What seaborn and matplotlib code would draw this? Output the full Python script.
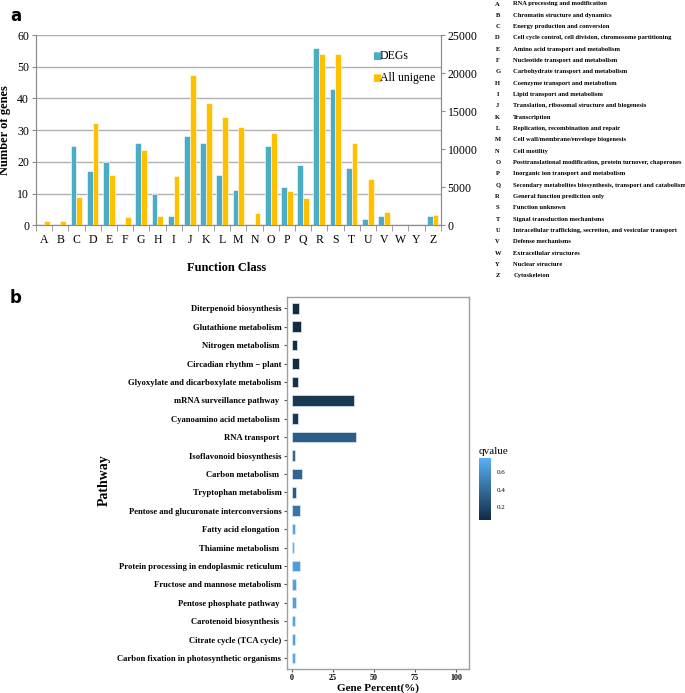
import matplotlib
matplotlib.use('Agg')
import matplotlib.pyplot as plt
import numpy as np
import pandas as pd
import seaborn as sns
from matplotlib.colors import LinearSegmentedColormap, Normalize
from matplotlib.cm import ScalarMappable

# Panel a: COG function classes
classes = ['A', 'B', 'C', 'D', 'E', 'F', 'G', 'H', 'I', 'J', 'K', 'L', 'M',
           'N', 'O', 'P', 'Q', 'R', 'S', 'T', 'U', 'V', 'W', 'Y', 'Z']
degs = [0, 0, 25, 17, 20, 0, 26, 10, 3, 28, 26, 16, 11,
        0, 25, 12, 19, 56, 43, 18, 2, 3, 0, 0, 3]
all_unigene = [580, 580, 3670, 13460, 6670, 1125, 9920, 1250, 6460, 19700, 16040, 14290, 12870,
               1580, 12080, 4510, 3630, 22460, 22460, 10770, 6040, 1750, 40, 0, 1360]
class_desc = [
    'RNA processing and modification',
    'Chromatin structure and dynamics',
    'Energy production and conversion',
    'Cell cycle control, cell division, chromosome partitioning',
    'Amino acid transport and metabolism',
    'Nucleotide transport and metabolism',
    'Carbohydrate transport and metabolism',
    'Coenzyme transport and metabolism',
    'Lipid transport and metabolism',
    'Translation, ribosomal structure and biogenesis',
    'Transcription',
    'Replication, recombination and repair',
    'Cell wall/membrane/envelope biogenesis',
    'Cell motility',
    'Posttranslational modification, protein turnover, chaperones',
    'Inorganic ion transport and metabolism',
    'Secondary metabolites biosynthesis, transport and catabolism',
    'General function prediction only',
    'Function unknown',
    'Signal transduction mechanisms',
    'Intracellular trafficking, secretion, and vesicular transport',
    'Defense mechanisms',
    'Extracellular structures',
    'Nuclear structure',
    'Cytoskeleton',
]

# Panel b: KEGG pathway enrichment
pathways = ['Diterpenoid biosynthesis', 'Glutathione metabolism', 'Nitrogen metabolism ',
            'Circadian rhythm \u2212 plant', 'Glyoxylate and dicarboxylate metabolism',
            'mRNA surveillance pathway ', 'Cyanoamino acid metabolism ', 'RNA transport ',
            'Isoflavonoid biosynthesis', 'Carbon metabolism ', 'Tryptophan metabolism',
            'Pentose and glucuronate interconversions', 'Fatty acid elongation ',
            'Thiamine metabolism ', 'Protein processing in endoplasmic reticulum',
            'Fructose and mannose metabolism', 'Pentose phosphate pathway ',
            'Carotenoid biosynthesis ', 'Citrate cycle (TCA cycle)',
            'Carbon fixation in photosynthetic organisms']
gene_percent = [4.5, 5.7, 3.3, 4.5, 3.9, 38.1, 3.9, 39.2, 2.0, 6.3, 2.6, 5.1, 2.0,
                1.4, 5.1, 2.6, 2.6, 2.0, 2.0, 2.0]
qvalue = [0.05, 0.05, 0.06, 0.06, 0.08, 0.12, 0.12, 0.32, 0.36, 0.36, 0.3, 0.45, 0.7,
          0.77, 0.66, 0.68, 0.68, 0.7, 0.7, 0.72]

W, H = 685, 693
fig = plt.figure(figsize=(W / 100, H / 100), dpi=100)
plt.rcParams['font.family'] = ['Liberation Serif', 'DejaVu Serif']

blue = '#4BACC6'
gold = '#FFC000'
grey = '#8C8C8C'

# ---------- panel a ----------
ax = fig.add_axes([36 / W, 1 - 225.3 / H, 404.7 / W, 190.3 / H])
ax2 = ax.twinx()
bar_w = 0.36
sns.barplot(x=classes, y=degs, color=blue, order=classes, width=bar_w,
            saturation=1, ax=ax, zorder=3)
sns.barplot(x=classes, y=all_unigene, color=gold, order=classes, width=bar_w,
            saturation=1, ax=ax2, zorder=3)
# side-by-side placement: DEGs left of centre, All unigene right
for p in ax.patches:
    p.set_x(p.get_x() - bar_w / 2)
for p in ax2.patches:
    p.set_x(p.get_x() + bar_w / 2)
for p in ax.patches + ax2.patches:
    p.set_edgecolor('white')
    p.set_linewidth(0.4)

ax.set_xlim(-0.5, len(classes) - 0.5)
ax.set_ylim(0, 60)
ax2.set_ylim(0, 25000)
ax.set_yticks(range(0, 61, 10))
ax2.set_yticks(range(0, 25001, 5000))
ax.yaxis.grid(True, color='#B0B0B0', linewidth=1.0, zorder=0)
ax.set_axisbelow(True)
for a in (ax, ax2):
    for s in a.spines.values():
        s.set_color(grey)
        s.set_linewidth(0.8)
    a.spines['top'].set_visible(False)
    a.set_xlabel('')
    a.set_ylabel('')
ax.tick_params(axis='y', labelsize=8.5, length=3, color=grey, pad=2)
ax2.tick_params(axis='y', labelsize=8.5, length=3, color=grey, pad=2)
ax.set_xticks(range(len(classes)))
ax.set_xticklabels(classes, fontsize=8.5)
ax.set_xticks(np.arange(-0.5, len(classes)), minor=True)
ax.tick_params(axis='x', which='major', length=0, pad=6)
ax.tick_params(axis='x', which='minor', length=4, color=grey)
ax.set_ylabel('Number of genes', fontsize=9, fontweight='bold', labelpad=4)
fig.text(227 / W, 1 - 268 / H, 'Function Class', fontsize=9, fontweight='bold',
         ha='center', va='center')

# legend
for i, (lab, col) in enumerate(zip(['DEGs', 'All unigene'], [blue, gold])):
    yy = 1 - (56 + 21.7 * i) / H
    fig.text(372 / W, yy, '\u25A0', color=col, fontsize=7, ha='left', va='center',
             family='DejaVu Sans')
    fig.text(380 / W, yy, lab, fontsize=8.5, ha='left', va='center')

# class description list
for i, (c, d) in enumerate(zip(classes, class_desc)):
    yy = 1 - (4 + 11.33 * i) / H
    fig.text(497.7 / W, yy, c, fontsize=4.7, fontweight='bold', ha='center', va='center')
    fig.text(513.3 / W, yy, d, fontsize=4.7, fontweight='bold', ha='left', va='center')

fig.text(10 / W, 1 - 16 / H, 'a', fontsize=12, fontweight='bold', family='DejaVu Sans',
         ha='left', va='center')
fig.text(10 / W, 1 - 298 / H, 'b', fontsize=12, fontweight='bold', family='DejaVu Sans',
         ha='left', va='center')

# ---------- panel b ----------
cmap = LinearSegmentedColormap.from_list('gg', ['#132B43', '#56B1F7'])
norm = Normalize(vmin=0.05, vmax=0.77)
df_kegg = pd.DataFrame({'pathway': pathways, 'percent': gene_percent, 'qvalue': qvalue})
pal = {p: cmap(norm(q)) for p, q in zip(pathways, qvalue)}
bx = fig.add_axes([287 / W, 1 - 669 / H, 182.3 / W, 371.7 / H])
sns.barplot(data=df_kegg, x='percent', y='pathway', hue='pathway', palette=pal,
            order=pathways, orient='h', width=0.58, saturation=1, legend=False,
            dodge=False, ax=bx)
for p in bx.patches:
    p.set_edgecolor('#DDE8F0')
    p.set_linewidth(0.5)
bx.set_xlim(-2.9, 108.1)
bx.set_ylim(len(pathways) - 0.4, -0.6)
bx.set_xticks([0, 25, 50, 75, 100])
for s in bx.spines.values():
    s.set_color('#A0A0A0')
    s.set_linewidth(1.0)
bx.tick_params(axis='y', labelsize=6.2, length=2, color='#555555', pad=2)
bx.tick_params(axis='x', labelsize=5.8, length=2, color='#555555', pad=1.5)
for t in bx.get_yticklabels() + bx.get_xticklabels():
    t.set_fontweight('bold')
bx.set_xlabel('Gene Percent(%)', fontsize=8, fontweight='bold', labelpad=1)
bx.set_ylabel('')
fig.text(104 / W, 1 - 480 / H, 'Pathway', fontsize=10, fontweight='bold', rotation=90,
         ha='center', va='center')

# colour bar
cax = fig.add_axes([479.3 / W, 1 - 520 / H, 11.7 / W, 62.3 / H])
cb = fig.colorbar(ScalarMappable(norm=norm, cmap=cmap), cax=cax)
cb.set_ticks([0.2, 0.4, 0.6])
cb.outline.set_visible(False)
cax.tick_params(labelsize=5, length=2, color='white', pad=2)
fig.text(479 / W, 1 - 452 / H, 'qvalue', fontsize=8, ha='left', va='center')

fig.savefig('out.png', dpi=100)
